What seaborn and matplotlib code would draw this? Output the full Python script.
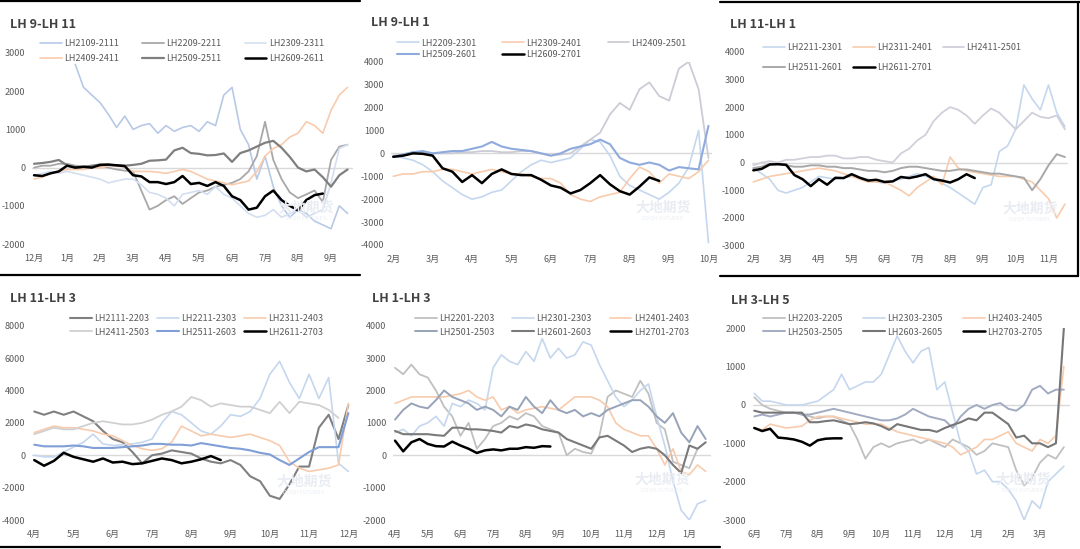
import matplotlib
matplotlib.use("Agg")
import matplotlib.pyplot as plt
from matplotlib.lines import Line2D
import numpy as np
import pandas as pd
import seaborn as sns

sns.set_theme(style="white")
plt.rcParams["font.family"] = ["Noto Sans CJK SC", "DejaVu Sans"]
plt.rcParams["axes.unicode_minus"] = False

STEP = 0.25  # one reading about every week, x is in months

# ---------------- LH 9-LH 11 (x: months from 12月) ----------------
p1_months = ["12月", "1月", "2月", "3月", "4月", "5月", "6月", "7月", "8月", "9月"]
p1_yticks = [-2000, -1000, 0, 1000, 2000, 3000]
lh2109_2111 = [2700, 2100, 1900, 1700, 1400, 1050, 1350, 1000, 1100, 1150, 900, 1100, 950, 1050, 1100, 950,
               1200, 1100, 1900, 2100, 1000, 600, -300, 300, -500, -1000, -1300, -1100, -1200, -1400, -1500,
               -1600, -1000, -1200]
lh2209_2211 = [0, 50, 50, 100, 100, 50, 30, 20, 50, 0, -50, -80, -100, -600, -1100, -1000, -850, -750, -950,
               -800, -650, -600, -500, -450, -400, -300, -100, 300, 1200, 200, -300, -650, -800, -700, -600,
               -900, 200, 550, 600]
lh2309_2311 = [-200, -150, -100, -150, -100, -150, -200, -250, -300, -400, -350, -300, -300, -450, -650, -700,
               -800, -1000, -700, -650, -600, -700, -500, -700, -800, -1000, -1200, -1300, -1250, -1100, -1300,
               -1200, -1100, -1300, -1200, -1100, -400, 500, 600]
lh2409_2411 = [-300, -250, -150, -100, -50, -50, -50, 0, 0, 50, 50, 0, -100, -100, -100, -120, -150, -100, -50,
               -100, -200, -300, -350, -400, -450, -400, -350, -100, 300, 500, 600, 800, 900, 1200, 1100, 900,
               1500, 1900, 2100]
lh2509_2511 = [100, 120, 150, 200, 60, 0, 20, 50, 80, 70, 60, 50, 70, 100, 180, 190, 210, 450, 520, 380, 360,
               320, 330, 370, 150, 380, 450, 550, 650, 700, 520, 280, 0, -100, -50, -250, -500, -200, -50]
lh2609_2611 = [-200, -220, -150, -100, 50, 0, 20, 0, 70, 80, 60, 40, -200, -230, -380, -380, -430, -380, -220,
               -430, -400, -480, -380, -480, -750, -850, -1100, -1050, -750, -600, -850, -1000, -1120, -850,
               -720, -680]

# ---------------- LH 9-LH 1 (x: months from 2月) ----------------
p2_months = ["2月", "3月", "4月", "5月", "6月", "7月", "8月", "9月", "10月"]
p2_yticks = [-4000, -3000, -2000, -1000, 0, 1000, 2000, 3000, 4000]
lh2209_2301 = [-100, -200, -300, -500, -800, -1200, -1500, -1800, -2000, -1900, -1700, -1600, -1200, -800,
               -500, -300, -400, -300, -200, 200, 600, 500, -100, -1000, -1400, -1600, -1800, -2000, -1700,
               -1300, -600, 1000, -3900]
lh2309_2401 = [-1000, -900, -900, -800, -800, -700, -700, -800, -900, -800, -700, -800, -900, -900, -1000,
               -1100, -1100, -1300, -1800, -2000, -2100, -1900, -1800, -1700, -1100, -600, -800, -1300, -900,
               -1000, -1100, -800, -300]
lh2409_2501 = [-100, -50, 50, 50, 0, 0, 0, 50, 50, 100, 100, 50, 50, 100, 100, 0, -100, -50, 0, 300, 600, 900,
               1700, 2200, 1900, 2800, 3100, 2500, 2300, 3700, 4000, 2800, -200]
lh2509_2601 = [-150, -50, 50, 100, 0, 50, 100, 100, 200, 300, 500, 300, 200, 150, 100, 0, -100, 0, 200, 300,
               400, 600, 400, -200, -400, -500, -400, -500, -750, -600, -650, -700, 1200]
lh2609_2701 = [-150, -100, 0, -20, -100, -650, -800, -1250, -950, -1300, -900, -700, -900, -950, -950, -1150,
               -1400, -1500, -1750, -1600, -1300, -950, -1350, -1650, -1800, -1450, -1050, -1200]

# ---------------- LH 11-LH 1 (x: months from 2月) ----------------
p3_months = ["2月", "3月", "4月", "5月", "6月", "7月", "8月", "9月", "10月", "11月"]
p3_yticks = [-3000, -2000, -1000, 0, 1000, 2000, 3000, 4000]
lh2211_2301 = [-200, -400, -600, -1000, -1100, -1000, -900, -700, -500, -550, -600, -550, -500, -550, -600,
               -700, -750, -650, -600, -500, -400, -500, -600, -750, -900, -1100, -1300, -1500, -900, -800,
               400, 600, 1200, 2800, 2300, 1900, 2800, 1800, 1300]
lh2311_2401 = [-700, -600, -500, -450, -400, -350, -300, -250, -200, -250, -300, -400, -500, -600, -700, -700,
               -700, -850, -1000, -1200, -900, -700, -500, -800, 200, -200, -300, -350, -400, -450, -500, -500,
               -500, -600, -700, -1000, -1300, -2000, -1500]
lh2411_2501 = [-100, 0, 50, 0, 100, 100, 150, 200, 200, 250, 250, 150, 150, 200, 200, 100, 50, 0, 330, 500,
               800, 1000, 1500, 1800, 2000, 1900, 1700, 1400, 1700, 1950, 1800, 1500, 1200, 1500, 1800, 1650,
               1600, 1700, 1200]
lh2511_2601 = [-200, -150, -50, -50, -100, -150, -150, -100, -100, -150, -150, -200, -200, -250, -300, -300,
               -350, -300, -200, -150, -150, -200, -250, -300, -300, -250, -250, -300, -350, -400, -400, -450,
               -500, -550, -1000, -600, -100, 300, 200]
lh2611_2701 = [-280, -230, -70, -60, -80, -450, -600, -850, -600, -800, -550, -560, -420, -550, -650, -620,
               -700, -680, -520, -560, -500, -420, -600, -650, -720, -600, -420, -560]

# ---------------- LH 11-LH 3 (x: months from 4月) ----------------
p4_months = ["4月", "5月", "6月", "7月", "8月", "9月", "10月", "11月", "12月"]
p4_yticks = [-4000, -2000, 0, 2000, 4000, 6000, 8000]
lh2111_2203 = [2700, 2500, 2700, 2500, 2700, 2400, 2100, 1500, 1000, 800, 200, -500, 0, 100, 300, 200, 100,
               -200, -400, -500, -300, -600, -1300, -1600, -2500, -2700, -1800, -700, -700, 1700, 2500, 1000,
               3100]
lh2211_2303 = [0, -100, -100, 200, 500, 800, 1300, 700, 600, 650, 700, 800, 1000, 2000, 2700, 2500, 2000,
               1500, 1300, 1800, 2500, 2400, 2700, 3500, 5000, 5800, 4500, 3500, 5000, 3500, 4800, -500, -1000]
lh2311_2403 = [1400, 1600, 1800, 1700, 1700, 1600, 1500, 1300, 1200, 900, 600, 400, 300, 400, 800, 1800, 1500,
               1200, 1300, 1200, 1100, 1200, 1300, 1100, 900, 600, -400, -800, -1000, -900, -800, -600, 3200]
lh2411_2503 = [1300, 1500, 1700, 1600, 1600, 1800, 2000, 2100, 2000, 1900, 1900, 2000, 2200, 2500, 2700, 3000,
               3600, 3400, 3000, 3200, 3100, 3000, 3000, 2800, 2600, 3300, 2600, 3300, 3200, 3100, 2800, 2300]
lh2511_2603 = [650, 550, 550, 550, 600, 550, 450, 450, 450, 500, 550, 600, 700, 700, 650, 650, 600, 750, 650,
               550, 450, 400, 300, 150, 50, -300, -600, -200, 200, 500, 500, 500, 2600]
lh2611_2703 = [-300, -650, -350, 150, -100, -250, -400, -200, -450, -400, -550, -500, -350, -200, -300, -500,
               -400, -250, -50, -300]

# ---------------- LH 1-LH 3 (x: months from 4月) ----------------
p5_months = ["4月", "5月", "6月", "7月", "8月", "9月", "10月", "11月", "12月", "1月"]
p5_yticks = [-2000, -1000, 0, 1000, 2000, 3000, 4000]
lh2201_2203 = [2700, 2500, 2800, 2500, 2400, 2000, 1500, 1200, 600, 1000, 200, 500, 900, 1000, 1200, 1100,
               1300, 1200, 900, 800, 700, 0, 200, 100, 50, 600, 1800, 2000, 1900, 1800, 2300, 1900, 1000, 800,
               -200, -300, -400, 200]
lh2301_2303 = [700, 800, 600, 900, 1000, 1200, 900, 1600, 1500, 1700, 1600, 1400, 2700, 3100, 2900, 2800, 3200,
               2900, 3600, 3000, 3300, 3000, 3100, 3500, 3400, 2800, 2300, 1800, 1500, 1700, 2000, 2200, 1200,
               300, -800, -1700, -2000, -1500, -1400]
lh2401_2403 = [1600, 1700, 1800, 1800, 1800, 1800, 1800, 1850, 1900, 2000, 1800, 1700, 1800, 1400, 1500, 1300,
               1400, 1450, 1500, 1450, 1400, 1600, 1800, 1800, 1800, 1700, 1500, 1000, 800, 700, 600, 600, 200,
               -300, 200, -500, -600, -300, -500]
lh2501_2503 = [1100, 1400, 1600, 1500, 1450, 1700, 2000, 1800, 1700, 1600, 1400, 1500, 1400, 1200, 1500, 1400,
               1800, 1500, 1300, 1700, 1400, 1300, 1400, 1200, 1300, 1200, 1400, 1500, 1600, 1700, 1700, 1500,
               1200, 1000, 1300, 700, 400, 900, 500]
lh2601_2603 = [750, 650, 650, 650, 650, 620, 600, 850, 850, 800, 800, 780, 750, 700, 900, 850, 950, 900, 800,
               750, 700, 500, 400, 300, 200, 550, 600, 450, 300, 100, 200, 250, 200, 0, -300, -550, 300, 200, 400]
lh2701_2703 = [450, 120, 400, 500, 350, 280, 270, 420, 300, 200, 70, 150, 180, 150, 200, 200, 250, 230, 280, 270]

# ---------------- LH 3-LH 5 (x: months from 6月) ----------------
p6_months = ["6月", "7月", "8月", "9月", "10月", "11月", "12月", "1月", "2月", "3月"]
p6_yticks = [-3000, -2000, -1000, 0, 1000, 2000]
lh2203_2205 = [200, 0, -100, -150, -200, -200, -250, -300, -350, -300, -300, -400, -500, -900, -1400, -1100,
               -1000, -1100, -1000, -950, -900, -1000, -900, -1000, -1100, -900, -1000, -1100, -1300, -1200,
               -1000, -1050, -1100, -1700, -2100, -1900, -1500, -1300, -1400, -1100]
lh2303_2305 = [300, 100, 100, 50, 0, 0, 0, 50, 100, 250, 400, 800, 400, 500, 600, 600, 800, 1300, 1800, 1400,
               1100, 1400, 1500, 400, 600, -200, -1000, -1200, -1800, -1700, -2000, -2000, -2200, -2500, -3000,
               -2500, -2700, -2000, -1800, -1600]
lh2403_2405 = [-600, -650, -500, -550, -600, -580, -550, -400, -300, -300, -300, -350, -400, -450, -500, -500,
               -500, -600, -700, -750, -800, -850, -900, -950, -1000, -1100, -1300, -1200, -1100, -900, -900,
               -800, -700, -1000, -1100, -1200, -900, -1000, -800, 1000]
lh2503_2505 = [-300, -250, -300, -250, -200, -200, -250, -250, -200, -150, -100, -150, -200, -250, -300, -350,
               -400, -400, -350, -250, -100, -200, -300, -350, -400, -600, -300, -100, 0, -100, 0, 50, -100,
               -150, 0, 400, 500, 300, 400, 400]
lh2603_2605 = [-150, -200, -200, -200, -200, -200, -200, -450, -450, -420, -400, -450, -500, -480, -450, -480,
               -550, -650, -500, -550, -600, -650, -650, -700, -600, -520, -450, -350, -400, -200, -200, -350,
               -500, -850, -800, -1000, -1000, -1100, -1000, 2000]
lh2703_2705 = [-600, -680, -620, -850, -870, -900, -960, -1060, -920, -880, -870, -870]

BLACK = "#000000"
W = 1080
H = 549

# each panel: title, months, yticks, ylim, xlim, axes box in pixels (l, t, r, b),
# title pos, legend anchor, legend spacing, column spacing, watermark pos, series
panels = [
    dict(title="LH 9-LH 11", months=p1_months, yticks=p1_yticks, ylim=(-2000, 3000), xlim=(-0.05, 9.65),
         box=(32.4, 53, 352.5, 244), tpos=(10, 24), lpos=(40, 39), lsp=0.65, csp=2.6, wm=(306, 208),
         series=[("LH2109-2111", 1.25, lh2109_2111, "#b8c9e6", 1.2),
                 ("LH2209-2211", 0, lh2209_2211, "#a8a8a8", 1.3),
                 ("LH2309-2311", 0, lh2309_2311, "#d3dff1", 1.2),
                 ("LH2409-2411", 0, lh2409_2411, "#f8cbad", 1.2),
                 ("LH2509-2511", 0, lh2509_2511, "#7f7f7f", 1.6),
                 ("LH2609-2611", 0, lh2609_2611, BLACK, 1.8)]),
    dict(title="LH 9-LH 1", months=p2_months, yticks=p2_yticks, ylim=(-4000, 4000), xlim=(-0.05, 8.1),
         box=(391.3, 61.7, 712.4, 245), tpos=(371, 22), lpos=(397, 38.5), lsp=0.3, csp=2.9, wm=(663, 208),
         series=[("LH2209-2301", 0, lh2209_2301, "#c5d7ee", 1.2),
                 ("LH2309-2401", 0, lh2309_2401, "#f8cbad", 1.2),
                 ("LH2409-2501", 0, lh2409_2501, "#cbccd6", 1.3),
                 ("LH2509-2601", 0, lh2509_2601, "#8faadc", 1.5),
                 ("LH2609-2701", 0, lh2609_2701, BLACK, 1.8)]),
    dict(title="LH 11-LH 1", months=p3_months, yticks=p3_yticks, ylim=(-3000, 4000), xlim=(-0.05, 9.6),
         box=(751.7, 51.7, 1068.2, 245.7), tpos=(730, 25), lpos=(763, 43.5), lsp=1.15, csp=1.2, wm=(1030, 209),
         series=[("LH2211-2301", 0, lh2211_2301, "#c5d7ee", 1.2),
                 ("LH2311-2401", 0, lh2311_2401, "#f8cbad", 1.2),
                 ("LH2411-2501", 0, lh2411_2501, "#cfd0da", 1.3),
                 ("LH2511-2601", 0, lh2511_2601, "#a8a8a8", 1.4),
                 ("LH2611-2701", 0, lh2611_2701, BLACK, 1.8)]),
    dict(title="LH 11-LH 3", months=p4_months, yticks=p4_yticks, ylim=(-4000, 8000), xlim=(-0.05, 8.05),
         box=(32.3, 325.7, 350.3, 520), tpos=(10, 299), lpos=(70, 314), lsp=0.5, csp=0.9, wm=(304, 482),
         series=[("LH2111-2203", 0, lh2111_2203, "#808080", 1.5),
                 ("LH2211-2303", 0, lh2211_2303, "#c5d7ee", 1.2),
                 ("LH2311-2403", 0, lh2311_2403, "#f8cbad", 1.2),
                 ("LH2411-2503", 0, lh2411_2503, "#d0d0d0", 1.3),
                 ("LH2511-2603", 0, lh2511_2603, "#7f9fd6", 1.5),
                 ("LH2611-2703", 0, lh2611_2703, BLACK, 1.8)]),
    dict(title="LH 1-LH 3", months=p5_months, yticks=p5_yticks, ylim=(-2000, 4000), xlim=(-0.05, 9.65),
         box=(393.4, 325.7, 710.6, 520), tpos=(372, 299), lpos=(415, 314), lsp=0.5, csp=2.0, wm=(662, 480),
         series=[("LH2201-2203", 0, lh2201_2203, "#c0c0c0", 1.3),
                 ("LH2301-2303", 0, lh2301_2303, "#c5d7ee", 1.2),
                 ("LH2401-2403", 0, lh2401_2403, "#f8cbad", 1.2),
                 ("LH2501-2503", 0, lh2501_2503, "#97a3b8", 1.4),
                 ("LH2601-2603", 0, lh2601_2603, "#7a7a7a", 1.5),
                 ("LH2701-2703", 0, lh2701_2703, BLACK, 1.8)]),
    dict(title="LH 3-LH 5", months=p6_months, yticks=p6_yticks, ylim=(-3000, 2000), xlim=(-0.05, 9.95),
         box=(752.7, 328.3, 1070.2, 520), tpos=(731, 300), lpos=(763, 314), lsp=0.5, csp=2.3, wm=(1023, 480),
         series=[("LH2203-2205", 0, lh2203_2205, "#c0c0c0", 1.3),
                 ("LH2303-2305", 0, lh2303_2305, "#c5d7ee", 1.2),
                 ("LH2403-2405", 0, lh2403_2405, "#f8cbad", 1.2),
                 ("LH2503-2505", 0, lh2503_2505, "#a2abc2", 1.4),
                 ("LH2603-2605", 0, lh2603_2605, "#767676", 1.5),
                 ("LH2703-2705", 0, lh2703_2705, BLACK, 1.8)]),
]


def row_major(items, ncol=3):
    # excel fills legend rows first, matplotlib fills columns first
    rows = [items[i:i + ncol] for i in range(0, len(items), ncol)]
    return [r[c] for c in range(ncol) for r in rows if c < len(r)]


fig = plt.figure(figsize=(W / 100, H / 100), dpi=100)
fig.patch.set_facecolor("white")

for p in panels:
    l, t, r, b = p["box"]
    ax = fig.add_axes([l / W, 1 - b / H, (r - l) / W, (b - t) / H])
    ax.set_facecolor("none")
    ax.axhline(0, color="#d9d9d9", lw=1, zorder=0.5)
    for name, start, vals, color, lw in p["series"]:
        df = pd.DataFrame({"month": start + STEP * np.arange(len(vals)), "spread": vals})
        sns.lineplot(data=df, x="month", y="spread", ax=ax, color=color, lw=lw, label=name,
                     estimator=None, sort=False)
    ax.set_xlim(*p["xlim"])
    ax.set_ylim(*p["ylim"])
    ax.set_xticks(range(len(p["months"])))
    ax.set_xticklabels(p["months"])
    ax.set_yticks(p["yticks"])
    ax.set_yticklabels([str(v) for v in p["yticks"]])
    ax.tick_params(axis="both", length=0, labelsize=6.5, labelcolor="#595959")
    ax.tick_params(axis="x", pad=7)
    ax.tick_params(axis="y", pad=5)
    ax.set_xlabel("")
    ax.set_ylabel("")
    ax.grid(False)
    for s in ax.spines.values():
        s.set_visible(False)

    handles, labels = ax.get_legend_handles_labels()
    pairs = row_major(list(zip(handles, labels)))
    lx, ly = p["lpos"]
    ax.legend([h for h, _ in pairs], [n for _, n in pairs], ncol=3, loc="upper left",
              bbox_to_anchor=(lx / W, 1 - ly / H), bbox_transform=fig.transFigure,
              frameon=False, fontsize=6.5, labelcolor="#595959", handlelength=2.4,
              handletextpad=0.25, columnspacing=p["csp"], labelspacing=p["lsp"], borderpad=0,
              borderaxespad=0)

    tx, ty = p["tpos"]
    fig.text(tx / W, 1 - ty / H, p["title"], fontsize=9, fontweight="bold", color="#404040",
             ha="left", va="center")
    # faint company watermark
    wx, wy = p["wm"]
    fig.text(wx / W, 1 - wy / H, "大地期货", fontsize=10, color="#e9edf3", ha="center", va="center",
             fontweight="bold", zorder=0)
    fig.text(wx / W, 1 - (wy + 10) / H, "DDQH FUTURES", fontsize=4, color="#eceff4", ha="center",
             va="center", zorder=0)

# panel frames of the screenshot collage
frame_lines = [((0, 360), (1, 1)), ((0, 360), (274.5, 274.5)), ((720, 1080), (1.5, 1.5)),
               ((720, 1078), (275.5, 275.5)), ((1078, 1078), (1.5, 275.5)), ((0, 720), (547, 547))]
for xs, ys in frame_lines:
    fig.add_artist(Line2D([x / W for x in xs], [1 - y / H for y in ys], transform=fig.transFigure,
                          color="black", lw=1.6))

fig.savefig("out.png", dpi=100)
